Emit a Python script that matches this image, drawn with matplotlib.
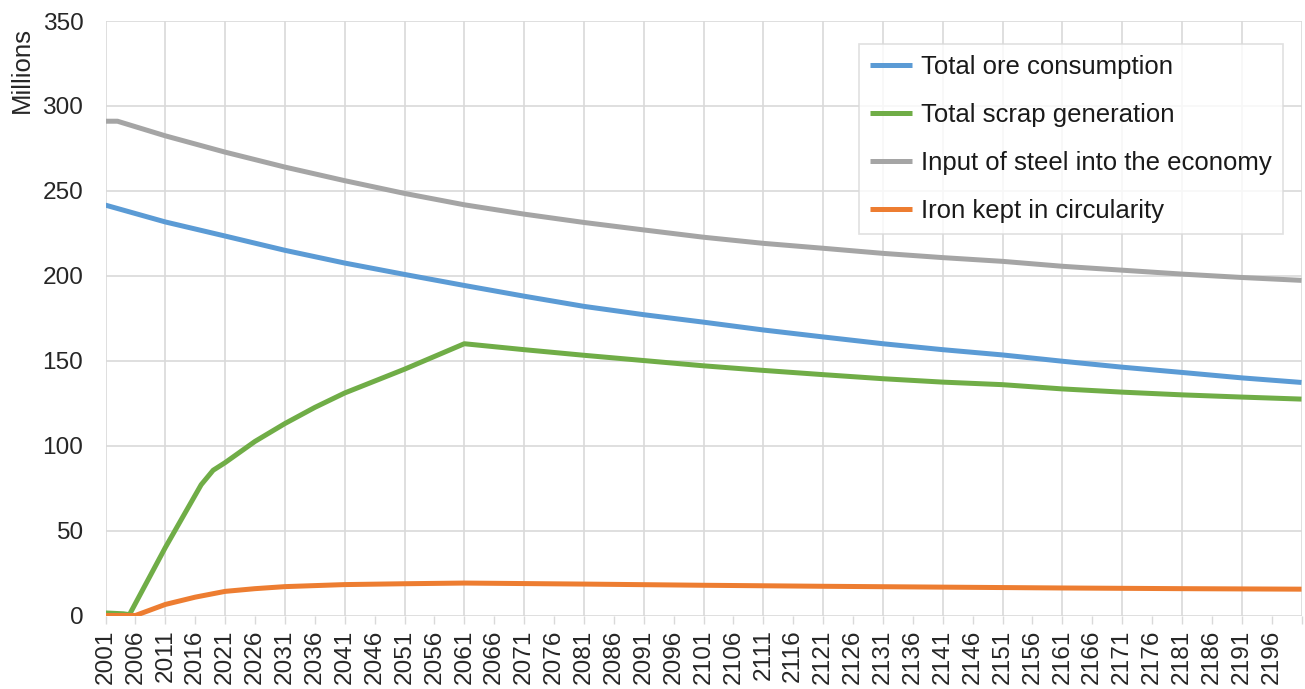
import matplotlib
matplotlib.use("Agg")
import matplotlib.pyplot as plt

# --- Données (millions) ---
ORE_YEARS = [2001, 2011, 2021, 2031, 2041, 2051, 2061, 2071, 2081, 2091, 2101,
             2111, 2121, 2131, 2141, 2151, 2161, 2171, 2181, 2191, 2201]
ORE_VALUES = [241.6, 231.7, 223.4, 215.0, 207.5, 200.8, 194.3, 188.0, 182.0, 177.1, 172.7,
              168.1, 164.0, 160.0, 156.5, 153.4, 149.7, 146.2, 143.1, 139.9, 137.2]

SCRAP_YEARS = [2001, 2004, 2005, 2011, 2017, 2019, 2021, 2026, 2031, 2036, 2041, 2051,
               2061, 2071, 2081, 2091, 2101, 2111, 2121, 2131, 2141, 2151, 2161,
               2171, 2181, 2191, 2201]
SCRAP_VALUES = [1.5, 1.0, 0.5, 40.0, 77.0, 85.5, 90.0, 102.5, 113.0, 122.5, 131.0, 145.0,
                160.0, 156.5, 153.2, 150.1, 147.0, 144.3, 141.8, 139.4, 137.4, 135.9, 133.4,
                131.5, 129.9, 128.6, 127.4]

INPUT_YEARS = [2001, 2003, 2011, 2021, 2031, 2041, 2051, 2061, 2071, 2081, 2091, 2101,
               2111, 2121, 2131, 2141, 2151, 2161, 2171, 2181, 2191, 2201]
INPUT_VALUES = [291.0, 291.0, 282.4, 272.8, 264.0, 256.0, 248.5, 241.8, 236.3, 231.4, 227.0, 222.7,
                219.1, 216.2, 213.2, 210.7, 208.5, 205.6, 203.3, 201.0, 199.0, 197.3]

IRON_YEARS = [2001, 2006, 2011, 2016, 2021, 2026, 2031, 2041, 2051, 2061, 2081,
              2101, 2121, 2141, 2161, 2181, 2201]
IRON_VALUES = [0.0, 0.0, 6.5, 10.8, 14.2, 15.8, 17.0, 18.2, 18.7, 19.1, 18.5,
               17.8, 17.2, 16.7, 16.2, 15.8, 15.5]

SERIES = [
    ("Total ore consumption", ORE_YEARS, ORE_VALUES, "#5B9BD5"),
    ("Total scrap generation", SCRAP_YEARS, SCRAP_VALUES, "#70AD47"),
    ("Input of steel into the economy", INPUT_YEARS, INPUT_VALUES, "#A5A5A5"),
    ("Iron kept in circularity", IRON_YEARS, IRON_VALUES, "#ED7D31"),
]

GRID_COLOR = "#D9D9D9"
TEXT_COLOR = "#262626"

plt.rcParams["font.family"] = ["Liberation Sans", "DejaVu Sans"]

W, H = 1305, 689
fig = plt.figure(figsize=(W / 100, H / 100), dpi=100)
ax = fig.add_axes([105.5 / W, 1 - 615.5 / H, (1301.5 - 105.5) / W, (615.5 - 21) / H])

for label, xs, ys, color in SERIES:
    ax.plot(xs, ys, color=color, linewidth=3.6, label=label, solid_capstyle="butt",
            solid_joinstyle="round", zorder=3)

ax.set_xlim(2001, 2201)
ax.set_ylim(0, 350)

# Axe X : grille tous les 10 ans, étiquettes tous les 5 ans
major = list(range(2001, 2202, 10))
minor = list(range(2006, 2200, 10))
ax.set_xticks(major)
ax.set_xticklabels([str(y) if y < 2200 else "" for y in major])
ax.set_xticks(minor, minor=True)
ax.set_xticklabels([str(y) for y in minor], minor=True)
ax.tick_params(axis="x", which="both", length=6, width=1, color=GRID_COLOR,
               labelrotation=90, labelsize=17.6, labelcolor=TEXT_COLOR, pad=4)

ax.set_yticks(range(0, 351, 50))
ax.tick_params(axis="y", length=0, labelsize=17.6, labelcolor=TEXT_COLOR, pad=16)

ax.grid(True, which="major", color=GRID_COLOR, linewidth=1.2, zorder=0)
for s in ax.spines.values():
    s.set_visible(False)

fig.text(21.5 / W, 1 - 27 / H, "Millions", rotation=90, ha="center", va="top",
         fontsize=18.5, color=TEXT_COLOR)

leg = ax.legend(loc="upper right", bbox_to_anchor=(1283 / W, 1 - 43.5 / H),
                bbox_transform=fig.transFigure, borderaxespad=0, fancybox=False,
                frameon=True, fontsize=18.5, handlelength=1.65, handletextpad=0.32,
                labelspacing=0.93, borderpad=0.45)
leg.get_frame().set_edgecolor(GRID_COLOR)
leg.get_frame().set_linewidth(1.2)
for t in leg.get_texts():
    t.set_color("#1a1a1a")

fig.savefig("out.png", dpi=100)
